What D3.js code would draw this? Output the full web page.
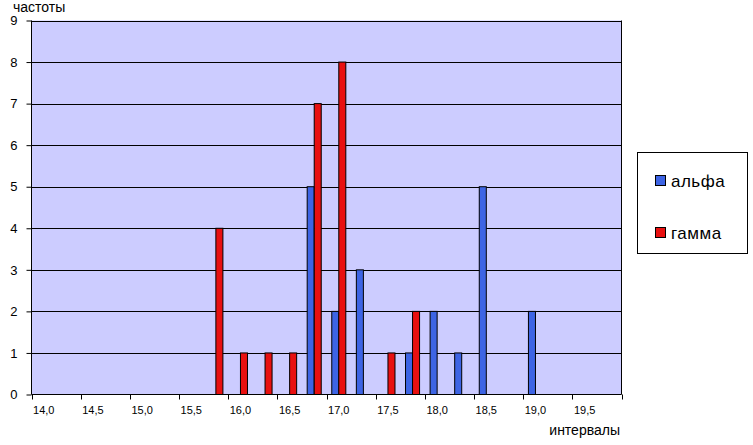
<!DOCTYPE html>
<html><head><meta charset="utf-8">
<script src="https://cdn.jsdelivr.net/npm/d3@7"></script>
<style>
body{margin:0;background:#fff;}
svg{display:block;font-family:Arial,"Liberation Sans",sans-serif;}
</style></head><body>
<svg id="c" width="753" height="445"></svg>
<script>
const categories = ["14,0","14,25","14,5","14,75","15,0","15,25","15,5","15,75","16,0","16,25","16,5","16,75",
                    "17,0","17,25","17,5","17,75","18,0","18,25","18,5","18,75","19,0","19,25","19,5","19,75"];
const tickLabels = ["14,0","14,5","15,0","15,5","16,0","16,5","17,0","17,5","18,0","18,5","19,0","19,5"];
const seriesNames = ["альфа","гамма"];
const alpha = [0,0,0,0,0,0,0,0,0,0,0,5,2,3,0,1,2,1,5,0,2,0,0,0];
const gamma = [0,0,0,0,0,0,0,4,1,1,1,7,8,0,1,2,0,0,0,0,0,0,0,0];
const yTicks = [0,1,2,3,4,5,6,7,8,9];
const colors = {"альфа":"#3d64e4","гамма":"#e81010"};

const svg = d3.select("#c");
const L=31.5, R=621.5, T=20.5, B=394.5;
const x0 = d3.scaleBand().domain(categories).range([L,R]).padding(0);
const x1 = d3.scaleBand().domain(seriesNames).range([0,x0.bandwidth()]).paddingInner(0).paddingOuter(0.75);
const y = d3.scaleLinear().domain([0,9]).range([B,T]);

svg.append("rect").attr("x",L).attr("y",T).attr("width",R-L).attr("height",B-T).attr("fill","#ccccff");

// gridlines
svg.append("g").selectAll("line").data(yTicks.filter(d=>d>0)).join("line")
  .attr("x1",L).attr("x2",R).attr("y1",d=>Math.round(y(d))+0.5).attr("y2",d=>Math.round(y(d))+0.5)
  .attr("stroke","#000").attr("stroke-width",1);
// right border
svg.append("line").attr("x1",R).attr("x2",R).attr("y1",T).attr("y2",B).attr("stroke","#000");

// bars
const data = categories.map((c,i)=>({cat:c, vals:[{s:"альфа",v:alpha[i]},{s:"гамма",v:gamma[i]}]}));
const g = svg.append("g").selectAll("g").data(data).join("g").attr("transform",d=>`translate(${x0(d.cat)},0)`);
g.selectAll("rect").data(d=>d.vals.filter(e=>e.v>0)).join("rect")
  .attr("x",d=>x1(d.s)).attr("width",x1.bandwidth())
  .attr("y",d=>y(d.v)).attr("height",d=>B-y(d.v))
  .attr("fill",d=>colors[d.s]).attr("stroke","#000").attr("stroke-width",1);

// y axis
const yAxis = d3.axisLeft(y).tickValues(yTicks).tickSize(5).tickPadding(9).tickFormat(d3.format("d"));
const ya = svg.append("g").attr("transform",`translate(${L},0)`).call(yAxis);
ya.select(".domain").attr("d",`M0,${T}V${B}`).attr("stroke","#000");
ya.selectAll("text").attr("font-size",13).attr("font-family","Arial,'Liberation Sans',sans-serif").attr("fill","#000");

// x axis
svg.append("line").attr("x1",L).attr("x2",R).attr("y1",B).attr("y2",B).attr("stroke","#000");
const tickPos = categories.filter((c,i)=>i%2===0).map(c=>x0(c)).concat([R]);
svg.append("g").selectAll("line").data(tickPos).join("line")
  .attr("x1",d=>Math.round(d)+0.5).attr("x2",d=>Math.round(d)+0.5).attr("y1",B).attr("y2",B+5).attr("stroke","#000");
svg.append("g").selectAll("text").data(tickLabels).join("text")
  .attr("x",(d,i)=>x0(categories[i*2])+x0.bandwidth()/2).attr("y",414)
  .attr("text-anchor","middle").attr("font-size",11).attr("fill","#000").text(d=>d);

// axis titles
svg.append("text").attr("x",13).attr("y",12).attr("font-size",14).attr("fill","#000").text("частоты");
svg.append("text").attr("x",620).attr("y",435).attr("text-anchor","end").attr("font-size",14).attr("fill","#000").text("интервалы");

// legend
const lg = svg.append("g");
lg.append("rect").attr("x",637.5).attr("y",152.5).attr("width",110).attr("height",101).attr("fill","#fff").attr("stroke","#000");
const ly = [181, 233];
seriesNames.forEach((s,i)=>{
  lg.append("rect").attr("x",655.5).attr("y",ly[i]-5.5).attr("width",10).attr("height",10).attr("fill",colors[s]).attr("stroke","#000");
  lg.append("text").attr("x",671).attr("y",ly[i]+6).attr("font-size",17).attr("letter-spacing",0.5).attr("fill","#000").text(s);
});
</script>
</body></html>
